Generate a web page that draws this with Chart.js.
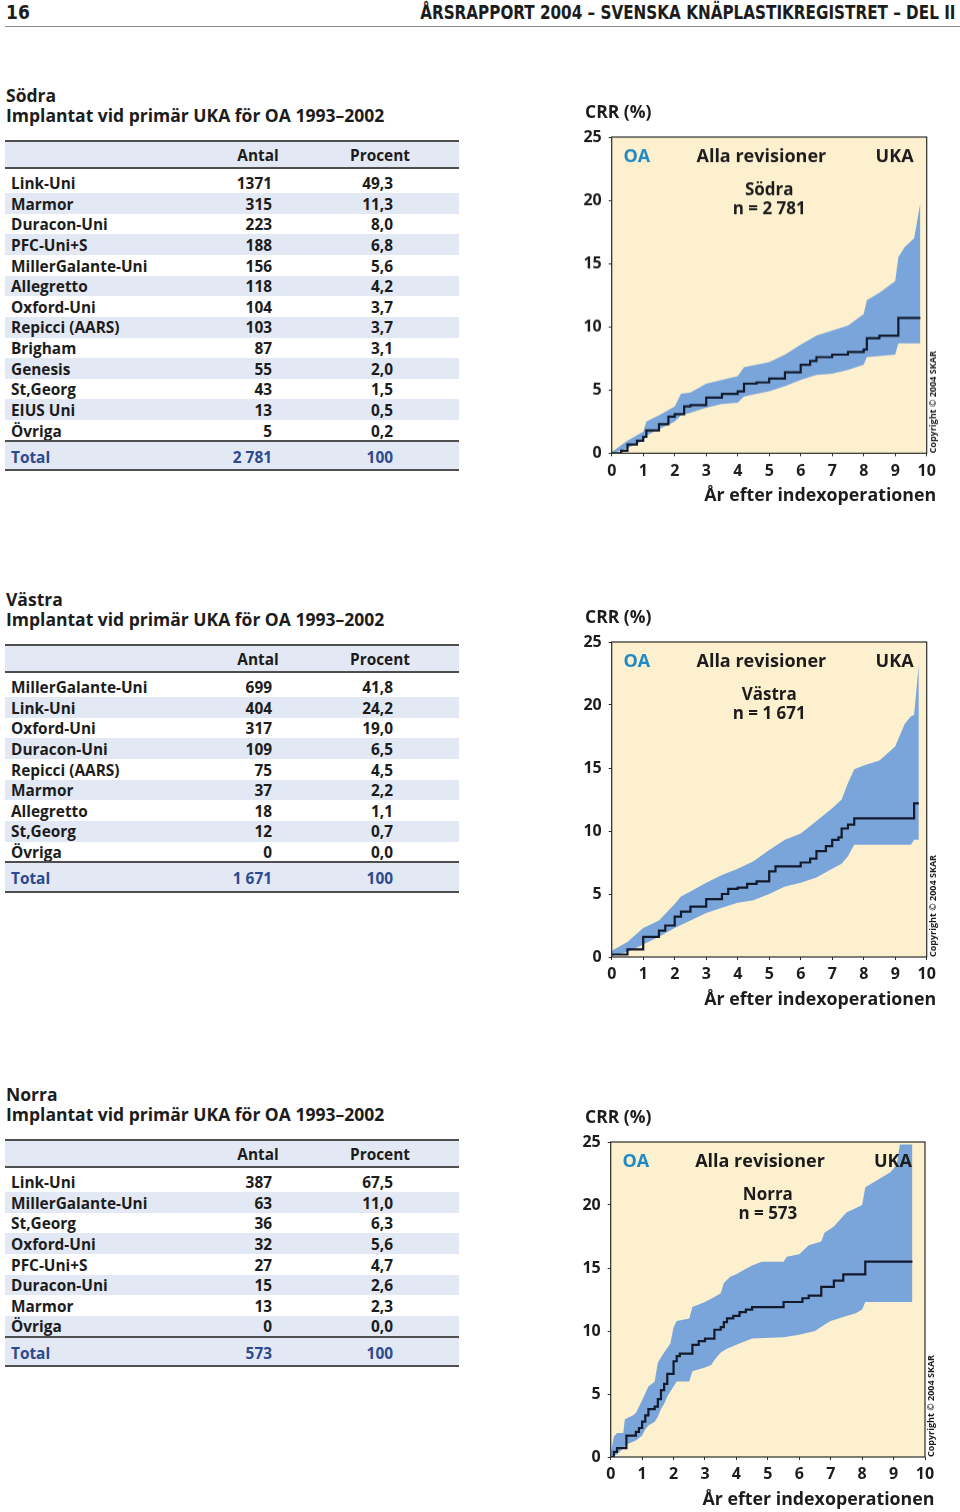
<!DOCTYPE html>
<html>
<head>
<meta charset="utf-8">
<script src="https://cdn.jsdelivr.net/npm/chart.js@4.4.0/dist/chart.umd.min.js"></script>
<style>
  body { margin: 0; width: 960px; height: 1512px; position: relative; background: #fff;
         font-family: "Open Sans", sans-serif; color: #1c1c1c; overflow: hidden; }
  .abs { position: absolute; white-space: nowrap; }
  .hdr { font-family: "DejaVu Sans Condensed", "Liberation Sans Narrow", sans-serif; font-weight: bold;
         font-size: 19px; top: 1px; line-height: 22px; }
  .ttl { left: 6px; font-size: 17.5px; font-weight: bold; line-height: 20px; }
  .crr { font-size: 17.5px; font-weight: bold; line-height: 20px; }
  .line { position: absolute; left: 5px; width: 454px; height: 2px; background: #4e4e4e; }
  .band { position: absolute; left: 5px; width: 454px; background: #e3e8f5; }
  .cell { position: absolute; font-size: 15.4px; font-weight: bold; line-height: 20px; white-space: nowrap; }
  .chartbox { position: absolute; left: 578px; width: 382px; }
</style>
</head>
<body>
<div class="abs hdr" style="left:6px">16</div>
<div class="abs hdr" style="right:5px;transform:scaleX(0.89);transform-origin:right center">ÅRSRAPPORT 2004 – SVENSKA KNÄPLASTIKREGISTRET – DEL II</div>
<div class="abs" style="left:5px;top:26px;width:955px;height:1px;background:#8a8a8a"></div>

<script>
// ---- table data ----
const sodraModels = ['Link-Uni', 'Marmor', 'Duracon-Uni', 'PFC-Uni+S', 'MillerGalante-Uni', 'Allegretto',
  'Oxford-Uni', 'Repicci (AARS)', 'Brigham', 'Genesis', 'St,Georg', 'EIUS Uni', 'Övriga'];
const sodraAntal = ['1371', '315', '223', '188', '156', '118', '104', '103', '87', '55', '43', '13', '5'];
const sodraProcent = ['49,3', '11,3', '8,0', '6,8', '5,6', '4,2', '3,7', '3,7', '3,1', '2,0', '1,5', '0,5', '0,2'];

const vastraModels = ['MillerGalante-Uni', 'Link-Uni', 'Oxford-Uni', 'Duracon-Uni', 'Repicci (AARS)',
  'Marmor', 'Allegretto', 'St,Georg', 'Övriga'];
const vastraAntal = ['699', '404', '317', '109', '75', '37', '18', '12', '0'];
const vastraProcent = ['41,8', '24,2', '19,0', '6,5', '4,5', '2,2', '1,1', '0,7', '0,0'];

const norraModels = ['Link-Uni', 'MillerGalante-Uni', 'St,Georg', 'Oxford-Uni', 'PFC-Uni+S',
  'Duracon-Uni', 'Marmor', 'Övriga'];
const norraAntal = ['387', '63', '36', '32', '27', '15', '13', '0'];
const norraProcent = ['67,5', '11,0', '6,3', '5,6', '4,7', '2,6', '2,3', '0,0'];

// ---- curve data (years, CRR %) ----
const sodraX = [0,0.3,0.5,0.8,1.0,1.1,1.5,1.8,2.0,2.3,2.5,3.0,3.5,4.0,4.2,4.6,5.0,5.5,6.0,6.3,6.5,7.0,7.5,8.0,8.1,8.5,9.1,9.8];
const sodraCrr = [0,0.2,0.7,1.0,1.3,1.8,2.3,2.9,3.1,3.7,3.8,4.4,4.7,4.9,5.5,5.6,5.9,6.4,7.0,7.3,7.6,7.8,8.0,8.2,9.1,9.3,10.7,10.7];
const sodraUpperX = [0,0.5,1.0,1.1,1.5,2.0,2.2,2.5,3.0,3.5,4.0,4.2,5.0,5.5,6.0,6.5,7.0,7.5,8.0,8.1,8.5,9.0,9.1,9.3,9.6,9.8];
const sodraUpper = [0.1,1.0,1.7,2.5,3.0,3.7,4.7,4.8,5.5,5.8,6.1,6.8,7.2,7.8,8.6,9.3,9.7,10.1,11.0,12.1,12.7,13.6,15.5,16.3,17.0,19.8];
const sodraLowerX = [0,0.5,1.0,1.1,1.5,2.0,2.2,2.5,3.0,3.5,4.0,4.2,5.0,5.5,6.0,6.5,7.0,7.5,8.0,8.1,9.0,9.1,9.8];
const sodraLower = [0,0.4,1.0,1.4,1.9,2.5,3.0,3.2,3.6,3.9,4.0,4.5,4.9,5.3,5.8,6.2,6.3,6.6,7.0,7.6,7.8,8.7,8.7];

const vastraX = [0,0.5,1.0,1.5,1.7,2.0,2.2,2.5,3.0,3.5,3.7,4.0,4.3,4.6,5.0,5.2,5.8,6.0,6.3,6.5,6.8,7.0,7.2,7.3,7.5,7.7,9.5,9.6,9.75];
const vastraCrr = [0.2,0.6,1.6,2.1,2.5,3.2,3.6,4.0,4.6,5.0,5.4,5.5,5.8,6.0,6.8,7.2,7.2,7.5,7.8,8.4,8.8,9.3,9.5,10.2,10.5,11.0,11.0,12.2,12.2];
const vastraUpperX = [0,0.5,1.0,1.5,2.0,2.2,2.5,3.0,3.5,4.0,4.5,5.0,5.5,6.0,6.5,7.0,7.3,7.5,7.7,8.0,8.5,9.0,9.3,9.5,9.6,9.75];
const vastraUpper = [0.5,1.2,2.3,2.9,4.2,4.8,5.2,5.9,6.5,7.0,7.6,8.5,9.3,9.8,10.8,11.8,12.5,13.8,14.9,15.2,15.6,16.7,18.5,19.1,19.2,23.3];
const vastraLowerX = [0,0.5,1.0,1.5,2.0,2.5,3.0,3.5,4.0,4.5,5.0,5.5,6.0,6.5,7.0,7.3,7.5,7.7,9.5,9.6,9.75];
const vastraLower = [0.1,0.4,1.0,1.6,2.3,2.9,3.5,3.9,4.3,4.5,5.0,5.6,5.9,6.3,7.0,7.4,8.0,8.9,8.9,9.3,9.3];

const norraX = [0,0.1,0.2,0.4,0.5,0.8,0.9,1.0,1.1,1.2,1.4,1.5,1.6,1.7,1.8,2.0,2.1,2.2,2.6,2.8,3.0,3.3,3.5,3.6,3.7,3.9,4.1,4.3,4.5,5.5,6.1,6.3,6.7,7.1,7.4,8.1,9.6];
const norraCrr = [0,0.4,0.7,0.7,1.7,2.0,2.3,2.8,3.3,3.8,4.0,4.6,5.3,5.8,6.6,7.6,8.0,8.2,8.9,9.2,9.4,10.1,10.3,10.7,11.0,11.2,11.5,11.7,11.9,12.3,12.6,12.8,13.5,14.0,14.5,15.5,15.5];
const norraUpperX = [0,0.1,0.2,0.4,0.45,0.7,0.8,1.0,1.2,1.4,1.5,1.7,1.9,2.0,2.1,2.5,2.6,3.0,3.3,3.5,3.6,3.8,4.0,4.2,4.5,4.8,5.5,5.6,6.0,6.3,6.7,6.8,7.1,7.5,8.0,8.1,8.5,8.9,9.1,9.2,9.6];
const norraUpper = [0.3,1.6,1.9,1.9,3.0,3.3,3.5,4.5,5.6,6.0,7.5,8.3,9.0,10.3,10.8,11.0,11.9,12.3,12.7,13.0,13.8,14.3,14.5,14.8,15.2,15.5,15.5,15.9,16.1,16.8,17.1,17.8,18.3,19.4,20.0,21.4,22.0,22.6,23.2,24.8,24.8];
const norraLowerX = [0,0.2,0.4,0.5,0.8,1.0,1.1,1.2,1.4,1.5,1.6,1.7,1.8,2.0,2.1,2.5,2.6,3.0,3.2,3.3,3.5,3.7,4.0,4.3,4.5,5.5,6.0,6.5,6.8,7.0,7.5,7.8,8.0,8.1,9.6];
const norraLower = [0,0.2,0.7,1.0,1.3,1.7,2.2,2.5,2.8,3.2,3.8,4.2,4.8,5.6,6.0,6.0,6.8,7.1,7.3,7.7,8.3,8.6,8.9,9.2,9.4,9.5,9.7,10.0,10.5,10.8,11.2,11.4,11.7,12.3,12.3];

const yearTicks = [0, 1, 2, 3, 4, 5, 6, 7, 8, 9, 10];
const crrTicks = [0, 5, 10, 15, 20, 25];

// ---- layout ----
const ROW_H = 20.62;
const NAVY = '#2c4a8f';

function el(cls, style, text) {
  const d = document.createElement('div');
  d.className = cls;
  d.style.cssText = style;
  if (text !== undefined) d.textContent = text;
  document.body.appendChild(d);
  return d;
}

function makeSection(off, region, models, antal, procent, total) {
  el('abs ttl', `top:${85 + off}px`, region);
  el('abs ttl', `top:${105 + off}px`, 'Implantat vid primär UKA för OA 1993–2002');

  const T = 140 + off;
  el('line', `top:${T}px`);
  el('band', `top:${T + 2}px;height:26px`);
  el('cell', `top:${T + 5.5}px;left:228px;width:60px;text-align:center`, 'Antal');
  el('cell', `top:${T + 5.5}px;left:340px;width:80px;text-align:center`, 'Procent');
  el('line', `top:${T + 27}px`);

  const r0 = T + 32.6;
  models.forEach((m, i) => {
    const top = r0 + i * ROW_H;
    const tt = top + 1.5;
    if (i % 2 === 1) el('band', `top:${top}px;height:${ROW_H}px`);
    el('cell', `top:${tt}px;left:11px`, m);
    el('cell', `top:${tt}px;left:200px;width:72px;text-align:right`, antal[i]);
    el('cell', `top:${tt}px;left:320px;width:73px;text-align:right`, procent[i]);
  });
  const end = r0 + models.length * ROW_H;
  el('line', `top:${end - 1}px`);
  el('band', `top:${end + 1}px;height:28px`);
  el('cell', `top:${end + 7}px;left:11px;color:${NAVY}`, 'Total');
  el('cell', `top:${end + 7}px;left:200px;width:72px;text-align:right;color:${NAVY}`, total);
  el('cell', `top:${end + 7}px;left:320px;width:73px;text-align:right;color:${NAVY}`, '100');
  el('line', `top:${end + 28.5}px`);
}

makeSection(0, 'Södra', sodraModels, sodraAntal, sodraProcent, '2 781');
makeSection(504, 'Västra', vastraModels, vastraAntal, vastraProcent, '1 671');
makeSection(999, 'Norra', norraModels, norraAntal, norraProcent, '573');

// ---- charts ----
Chart.defaults.font.family = '"Open Sans", sans-serif';
Chart.defaults.color = '#1c1c1c';

const pts = (xs, ys) => xs.map((x, i) => ({ x: x, y: ys[i] }));

const framePlugin = {
  id: 'frame',
  beforeDraw(chart) {
    const a = chart.chartArea, c = chart.ctx;
    c.save();
    c.fillStyle = '#fdf0cf';
    c.fillRect(a.left, a.top, a.right - a.left, a.bottom - a.top);
    c.restore();
  },
  afterDraw(chart, args, opts) {
    const a = chart.chartArea, c = chart.ctx;
    const xs = chart.scales.x, ys = chart.scales.y;
    c.save();
    c.strokeStyle = '#2a2a2a';
    c.lineWidth = 1.2;
    c.strokeRect(a.left, a.top, a.right - a.left, a.bottom - a.top);

    c.textAlign = 'center';
    c.textBaseline = 'middle';
    c.font = 'bold 18px "Open Sans"';
    c.fillStyle = '#1f8ac6';
    c.fillText('OA', xs.getPixelForValue(0.8), ys.getPixelForValue(23.45));
    c.fillStyle = '#1c1c1c';
    c.fillText('Alla revisioner', xs.getPixelForValue(4.75), ys.getPixelForValue(23.45));
    c.fillText('UKA', xs.getPixelForValue(8.98), ys.getPixelForValue(23.45));
    c.font = 'bold 17px "Open Sans"';
    c.fillText(opts.region, xs.getPixelForValue(5.0), ys.getPixelForValue(20.75));
    c.fillText(opts.n, xs.getPixelForValue(5.0), ys.getPixelForValue(19.3));

    // x axis title, right aligned slightly past the frame
    c.textAlign = 'right';
    c.font = 'bold 17.8px "Open Sans"';
    c.fillText('År efter indexoperationen', a.right + 9.5, a.bottom + 42.5);

    c.translate(a.right + 6.5, a.bottom);
    c.rotate(-Math.PI / 2);
    c.textAlign = 'left';
    c.font = 'bold 9px "Open Sans"';
    c.fillText('Copyright © 2004 SKAR', 0, 0);
    c.restore();
  }
};

function makeChart(plotLeft, plotTop, plotRight, plotBottom, region, n, cx, cy, ux, uy, lx, ly) {
  const boxLeft = 578, padTop = 20, boxTop = plotTop - padTop;
  const xAxisH = 57;
  const box = el('chartbox', `left:${boxLeft}px;top:${boxTop}px;height:${plotBottom - plotTop + padTop + xAxisH}px`);
  const cv = document.createElement('canvas');
  box.appendChild(cv);
  el('abs crr', `left:${boxLeft + 7}px;top:${plotTop - 36}px`, 'CRR (%)');

  new Chart(cv, {
    type: 'line',
    data: {
      datasets: [
        { label: 'CRR', data: pts(cx, cy), borderColor: '#121a2b', borderWidth: 2.2,
          stepped: true, pointRadius: 0, fill: false },
        { label: 'Övre', data: pts(ux, uy), borderWidth: 0, borderColor: 'rgba(0,0,0,0)',
          backgroundColor: '#7aa5da', pointRadius: 0, fill: '+1' },
        { label: 'Undre', data: pts(lx, ly), borderWidth: 0, borderColor: 'rgba(0,0,0,0)',
          pointRadius: 0, fill: false },
      ]
    },
    options: {
      responsive: true,
      maintainAspectRatio: false,
      animation: false,
      layout: { padding: { top: padTop, right: 960 - plotRight, left: 0, bottom: 0 } },
      plugins: { legend: { display: false }, tooltip: { enabled: false },
                 frame: { region: region, n: n } },
      scales: {
        x: {
          type: 'linear', min: 0, max: 10,
          afterFit: (s) => { s.height = xAxisH; },
          afterBuildTicks: (s) => { s.ticks = yearTicks.map(v => ({ value: v })); },
          grid: { drawOnChartArea: false, drawTicks: true, tickLength: 3, color: '#2a2a2a' },
          border: { display: false },
          ticks: { font: { size: 16, weight: 'bold' }, padding: 5, maxRotation: 0, autoSkip: false },
          title: { display: false }
        },
        y: {
          min: 0, max: 25,
          afterFit: (s) => { s.width = plotLeft - boxLeft; },
          afterBuildTicks: (s) => { s.ticks = crrTicks.map(v => ({ value: v })); },
          grid: { drawOnChartArea: false, drawTicks: true, tickLength: 3, color: '#2a2a2a' },
          border: { display: false },
          ticks: { font: { size: 16, weight: 'bold' }, padding: 7 }
        }
      }
    },
    plugins: [framePlugin]
  });
}

makeChart(611.7, 137.3, 926.7, 452.7, 'Södra', 'n = 2 781',
  sodraX, sodraCrr, sodraUpperX, sodraUpper, sodraLowerX, sodraLower);
makeChart(611.7, 641.7, 926.7, 956.7, 'Västra', 'n = 1 671',
  vastraX, vastraCrr, vastraUpperX, vastraUpper, vastraLowerX, vastraLower);
makeChart(610.7, 1142.3, 925, 1457.3, 'Norra', 'n = 573',
  norraX, norraCrr, norraUpperX, norraUpper, norraLowerX, norraLower);
</script>
</body>
</html>
